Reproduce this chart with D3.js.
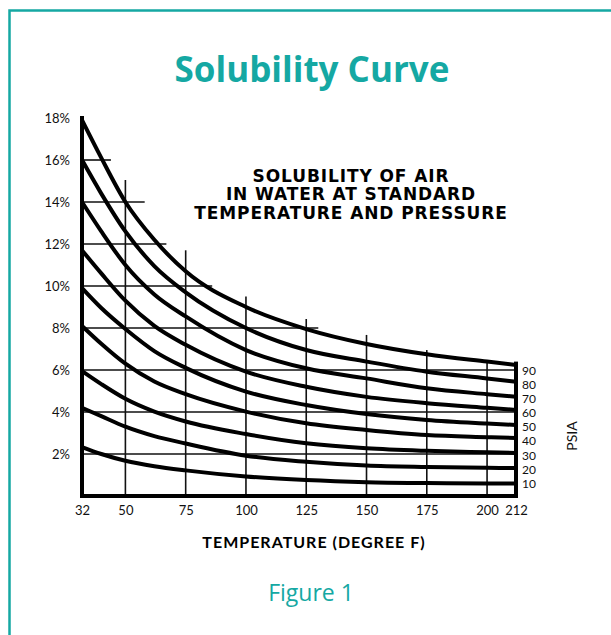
<!DOCTYPE html>
<html>
<head>
<meta charset="utf-8">
<script src="https://cdn.jsdelivr.net/npm/d3@7"></script>
<style>
  body { margin: 0; background: #fff; }
  svg { display: block; }
</style>
</head>
<body>
<script>
(function() {
  const width = 611;
  const height = 635;
  const teal = "#15a8a3";

  // temperature points (deg F) where the curves were read
  const temps = [32, 40, 50, 62, 75, 100, 125, 150, 175, 200, 212];
  // solubility (% by volume) for each pressure curve
  const psia90 = [17.9, 16.1, 14.0, 12.2, 10.7, 9.0, 7.95, 7.24, 6.75, 6.4, 6.24];
  const psia80 = [16.0, 14.4, 12.6, 10.95, 9.7, 8.0, 6.95, 6.4, 5.92, 5.6, 5.44];
  const psia70 = [14.0, 12.6, 11.0, 9.6, 8.55, 6.95, 6.08, 5.6, 5.13, 4.85, 4.73];
  const psia60 = [11.7, 10.6, 9.3, 8.1, 7.2, 5.92, 5.2, 4.72, 4.42, 4.2, 4.1];
  const psia50 = [9.9, 8.95, 7.95, 6.9, 6.1, 4.97, 4.33, 3.9, 3.62, 3.45, 3.38];
  const psia40 = [8.1, 7.25, 6.3, 5.45, 4.85, 4.02, 3.46, 3.14, 2.9, 2.8, 2.76];
  const psia30 = [5.95, 5.33, 4.63, 4.02, 3.55, 2.95, 2.51, 2.27, 2.15, 2.08, 2.05];
  const psia20 = [4.2, 3.8, 3.3, 2.85, 2.5, 1.92, 1.63, 1.45, 1.38, 1.34, 1.33];
  const psia10 = [2.33, 2.0, 1.68, 1.42, 1.22, 0.93, 0.76, 0.66, 0.62, 0.6, 0.6];
  const pressures = [90, 80, 70, 60, 50, 40, 30, 20, 10];

  const xTicks = [32, 50, 75, 100, 125, 150, 175, 200, 212];
  const yTicks = [2, 4, 6, 8, 10, 12, 14, 16, 18];

  // stepped grid: how far each line reaches
  const hGridLevels = [16, 14, 12, 10, 8, 6, 4, 2];
  const hGridReach = [44, 58, 67, 86, 130, 212, 212, 212];
  const vGridTemps = [50, 75, 100, 125, 150, 175, 200];
  const vGridReach = [15.05, 11.7, 9.5, 8.43, 7.67, 6.95, 6.48];
  const rightAxisTop = 6.4;

  const series = pressures.map((p, i) => ({
    psia: p,
    values: [psia90, psia80, psia70, psia60, psia50, psia40, psia30, psia20, psia10][i]
  }));

  const svg = d3.select("body").append("svg")
    .attr("width", width)
    .attr("height", height);

  svg.append("rect")
    .attr("width", width).attr("height", height)
    .attr("fill", "#fff");

  // frame (runs off the right and bottom edges)
  svg.append("rect")
    .attr("x", 9.5).attr("y", 10.5)
    .attr("width", 700).attr("height", 700)
    .attr("fill", "none")
    .attr("stroke", teal)
    .attr("stroke-width", 2.5);

  svg.append("text")
    .attr("x", 312).attr("y", 82)
    .attr("text-anchor", "middle")
    .attr("font-family", "'Open Sans', sans-serif")
    .attr("font-weight", "bold")
    .attr("font-size", "35px")
    .attr("fill", teal)
    .text("Solubility Curve");

  const x = d3.scaleLinear().domain([32, 212]).range([82, 516]);
  const y = d3.scaleLinear().domain([0, 18]).range([496, 118]);

  // Grid
  const grid = svg.append("g")
    .attr("stroke", "#111")
    .attr("stroke-width", 1.6);

  hGridLevels.forEach((v, i) => {
    grid.append("line")
      .attr("x1", x(32)).attr("x2", x(hGridReach[i]))
      .attr("y1", y(v)).attr("y2", y(v));
  });
  vGridTemps.forEach((t, i) => {
    grid.append("line")
      .attr("x1", x(t)).attr("x2", x(t))
      .attr("y1", y(0)).attr("y2", y(vGridReach[i]));
  });

  // Curves
  const line = d3.line()
    .x((d, i) => x(temps[i]))
    .y(d => y(d))
    .curve(d3.curveMonotoneX);

  svg.append("g")
    .selectAll("path")
    .data(series)
    .join("path")
    .attr("d", d => line(d.values))
    .attr("fill", "none")
    .attr("stroke", "#000")
    .attr("stroke-width", 4);

  // Axis lines
  const axes = svg.append("g")
    .attr("stroke", "#000")
    .attr("stroke-width", 4);
  axes.append("line")
    .attr("x1", x(32)).attr("x2", x(32))
    .attr("y1", y(18) - 2).attr("y2", y(0) + 2);
  axes.append("line")
    .attr("x1", x(32) - 2).attr("x2", x(212) + 2)
    .attr("y1", y(0)).attr("y2", y(0));
  axes.append("line")
    .attr("x1", x(212)).attr("x2", x(212))
    .attr("y1", y(rightAxisTop)).attr("y2", y(0) + 2);

  // Tick labels
  const xAxis = svg.append("g")
    .attr("transform", `translate(0,${y(0)})`)
    .call(d3.axisBottom(x).tickValues(xTicks).tickSize(0).tickPadding(10).tickFormat(d3.format("d")));
  const yAxis = svg.append("g")
    .attr("transform", `translate(${x(32)},0)`)
    .call(d3.axisLeft(y).tickValues(yTicks).tickSize(0).tickPadding(12).tickFormat(d => d + "%"));
  [xAxis, yAxis].forEach(a => {
    a.select(".domain").remove();
    a.selectAll("text")
      .attr("font-family", "Lato, sans-serif")
      .attr("font-size", "13px")
      .attr("fill", "#111");
  });

  // PSIA labels, evenly stacked up from the lowest curve end
  const baseY = y(psia10[psia10.length - 1]);
  svg.append("g")
    .selectAll("text")
    .data(pressures.slice().reverse())
    .join("text")
    .attr("x", x(212) + 6)
    .attr("y", (d, i) => baseY - i * 14.1)
    .attr("dy", "0.36em")
    .attr("font-family", "Lato, sans-serif")
    .attr("font-size", "12px")
    .attr("fill", "#111")
    .text(d => d);

  svg.append("text")
    .attr("transform", "translate(577,436) rotate(-90)")
    .attr("text-anchor", "middle")
    .attr("font-family", "Lato, sans-serif")
    .attr("font-size", "14px")
    .attr("fill", "#111")
    .text("PSIA");

  // In-chart heading
  const heading = ["SOLUBILITY OF AIR", "IN WATER AT STANDARD", "TEMPERATURE AND PRESSURE"];
  svg.append("g")
    .selectAll("text")
    .data(heading)
    .join("text")
    .attr("x", 351)
    .attr("y", (d, i) => 182 + i * 18.3)
    .attr("text-anchor", "middle")
    .attr("font-family", "'DejaVu Sans', sans-serif")
    .attr("font-weight", "bold")
    .attr("font-size", "17px")
    .attr("letter-spacing", "0.9px")
    .attr("fill", "#000")
    .text(d => d);

  svg.append("text")
    .attr("x", 314).attr("y", 548)
    .attr("text-anchor", "middle")
    .attr("font-family", "Lato, sans-serif")
    .attr("font-weight", "bold")
    .attr("font-size", "16px")
    .attr("letter-spacing", "1px")
    .attr("fill", "#000")
    .text("TEMPERATURE (DEGREE F)");

  svg.append("text")
    .attr("x", 311).attr("y", 601)
    .attr("text-anchor", "middle")
    .attr("font-family", "'Open Sans', sans-serif")
    .attr("font-size", "23px")
    .attr("fill", teal)
    .text("Figure 1");
})();
</script>
</body>
</html>
